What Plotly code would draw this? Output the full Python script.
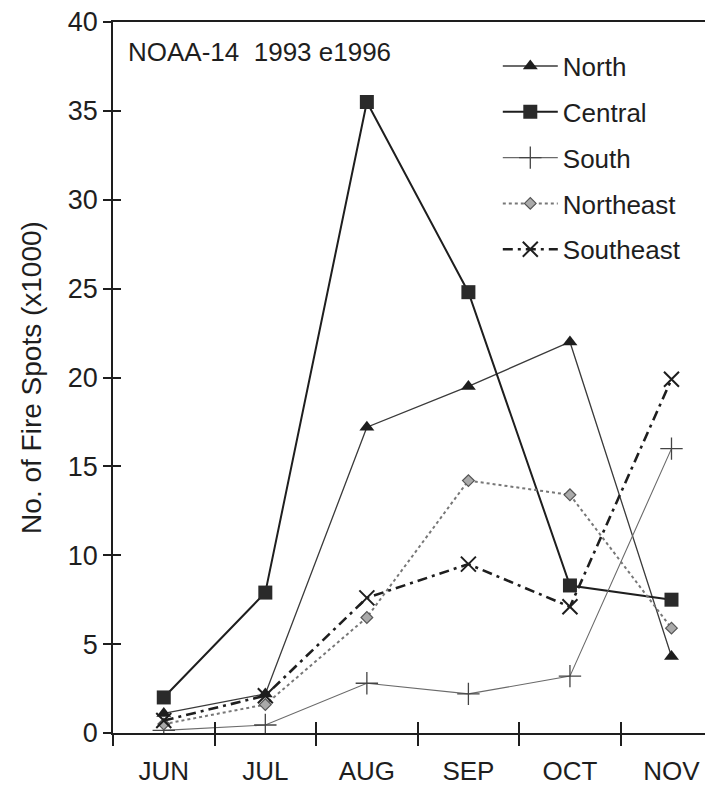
import plotly.graph_objects as go

months = ["JUN", "JUL", "AUG", "SEP", "OCT", "NOV"]
north = [1.1, 2.2, 17.2, 19.5, 22.0, 4.3]
central = [2.0, 7.9, 35.5, 24.8, 8.3, 7.5]
south = [0.15, 0.45, 2.8, 2.2, 3.2, 16.0]
northeast = [0.5, 1.6, 6.5, 14.2, 13.4, 5.9]
southeast = [0.7, 2.1, 7.6, 9.5, 7.1, 19.9]
y_ticks = [0, 5, 10, 15, 20, 25, 30, 35, 40]
boundary_ticks = [-0.5, 0.5, 1.5, 2.5, 3.5, 4.5]

FONT = "Liberation Sans, Arial, sans-serif"
INK = "#1e1e1e"

fig = go.Figure()

fig.add_trace(go.Scatter(
    x=months, y=north, name="North", mode="lines+markers", legendgroup="a",
    line=dict(color="#3a3a3a", width=1.3),
    marker=dict(symbol="triangle-up", size=13, color=INK)))
fig.add_trace(go.Scatter(
    x=months, y=central, name="Central", mode="lines+markers", legendgroup="b",
    line=dict(color=INK, width=2),
    marker=dict(symbol="square", size=14, color="#2a2a2a")))
fig.add_trace(go.Scatter(
    x=months, y=south, name="South", mode="lines+markers", legendgroup="c",
    line=dict(color="#6a6a6a", width=1.1),
    marker=dict(symbol="cross-thin", size=16, color="#444",
                line=dict(width=1.3, color="#444"))))
fig.add_trace(go.Scatter(
    x=months, y=northeast, name="Northeast", mode="lines+markers", legendgroup="d",
    line=dict(color="#777", width=2, dash="dot"),
    marker=dict(symbol="diamond", size=9, color="#aaa",
                line=dict(width=1.2, color="#555"))))
fig.add_trace(go.Scatter(
    x=months, y=southeast, name="Southeast", mode="lines+markers", legendgroup="e",
    line=dict(color=INK, width=2.6, dash="10px,5px,3px,5px"),
    marker=dict(symbol="x-thin", size=15, color=INK,
                line=dict(width=2, color=INK))))

# overlay axes used only to draw the inner half of the crossing tick marks
fig.add_trace(go.Scatter(x=[0], y=[0], xaxis="x2", yaxis="y2", mode="markers",
                         marker=dict(opacity=0, size=1),
                         showlegend=False, hoverinfo="skip"))

fig.update_layout(
    width=705, height=795,
    margin=dict(l=113, r=0, t=22, b=62),
    paper_bgcolor="white", plot_bgcolor="white",
    font=dict(family=FONT, color=INK),
    showlegend=True,
    legend=dict(x=0.65, y=0.971, xanchor="left", yanchor="top",
                font=dict(size=26, family=FONT, color=INK),
                bgcolor="rgba(0,0,0,0)", tracegroupgap=9, itemwidth=55,
                traceorder="grouped"),
    xaxis=dict(type="category", categoryorder="array", categoryarray=months,
               range=[-0.5, 5.33], tickson="boundaries", ticks="outside",
               ticklen=11, tickwidth=1.5, tickcolor=INK, ticklabelstandoff=14,
               showline=True, linecolor=INK, linewidth=1.5, mirror=True,
               showgrid=False, zeroline=False,
               tickfont=dict(size=26, family=FONT, color=INK)),
    yaxis=dict(range=[0, 40], tickvals=y_ticks, ticks="outside", ticklen=8,
               tickwidth=1.5, tickcolor=INK, showline=True, linecolor=INK,
               linewidth=1.5, showgrid=False, zeroline=False,
               tickfont=dict(size=27, family=FONT, color=INK),
               title=dict(text="No. of Fire Spots (x1000)",
                          font=dict(size=28, family=FONT, color=INK),
                          standoff=18)),
    xaxis2=dict(overlaying="x", anchor="y", side="bottom", range=[-0.5, 5.33],
                tickvals=boundary_ticks, ticks="inside", ticklen=11,
                tickwidth=1.5, tickcolor=INK, showticklabels=False,
                showline=False, showgrid=False, zeroline=False),
    yaxis2=dict(overlaying="y", anchor="x", side="left", range=[0, 40],
                tickvals=y_ticks, ticks="inside", ticklen=8, tickwidth=1.5,
                tickcolor=INK, showticklabels=False, showline=False,
                showgrid=False, zeroline=False),
    annotations=[dict(text="NOAA-14  1993 e1996", xref="paper", yref="paper",
                      x=0.022, y=0.958, xanchor="left", yanchor="middle",
                      showarrow=False,
                      font=dict(size=26, family=FONT, color=INK))],
)

fig.write_html("out.html")
